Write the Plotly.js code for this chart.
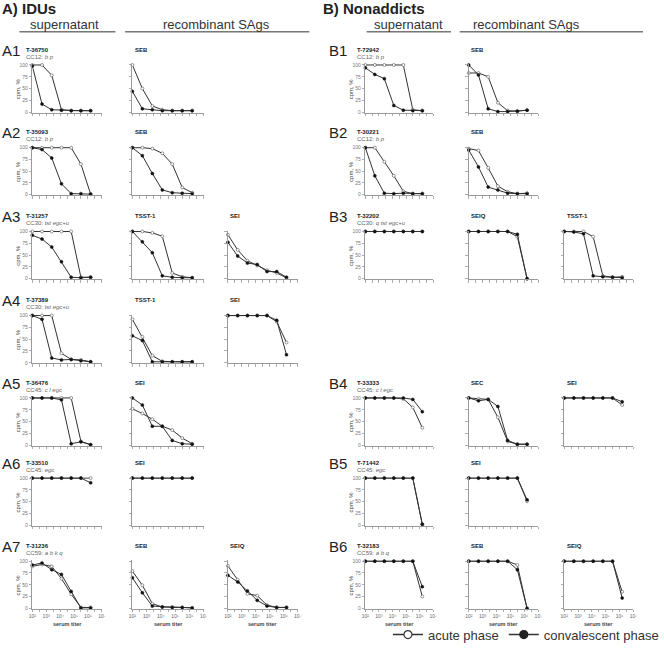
<!DOCTYPE html>
<html><head><meta charset="utf-8">
<script src="https://cdn.plot.ly/plotly-3.0.1.min.js"></script>
<style>html,body{margin:0;padding:0;background:#fff}</style>
</head><body><div id="chart" style="width:664px;height:650px"></div>
<script>
// ---------- data ----------
const titers = [100, 500, 2500, 12500, 62500, 312500, 1562500];
const tickValues = [100, 1000, 10000, 100000, 1000000, 10000000];
const minorTickValues = [316.2, 3162, 31623, 316228, 3162278];
const tickLabels = ["10\u00B2", "10\u00B3", "10\u2074", "10\u2075", "10\u2076", "10\u2077"];
const yTicks = [0, 25, 50, 75, 100];
const seriesNames = ["acute phase", "convalescent phase"];

// A) IDUs
const A_strains = ["T-36750", "T-35093", "T-31257", "T-37389", "T-36476", "T-33510", "T-31236"];
const A_types = ["CC12: <i>b p</i>", "CC12: <i>b p</i>", "CC30: <i>tst egc+u</i>", "CC30: <i>tst egc+u</i>", "CC45: <i>c l egc</i>", "CC45: <i>egc</i>", "CC59: <i>a b k q</i>"];
const A_sags = [["SEB"], ["SEB"], ["TSST-1", "SEI"], ["TSST-1", "SEI"], ["SEI"], ["SEI"], ["SEB", "SEIQ"]];

const A1_sup_acute = [100, 100, 78, 5, 3, 3, 3];
const A1_sup_conv  = [98, 17, 5, 4, 3, 3, 3];
const A1_SEB_acute = [100, 50, 13, 5, 3, 3, 3];
const A1_SEB_conv  = [44, 7, 5, 3, 3, 3, 3];
const A2_sup_acute = [100, 100, 100, 100, 100, 65, 1];
const A2_sup_conv  = [100, 96, 78, 23, 2, 2, 1];
const A2_SEB_acute = [100, 100, 98, 88, 65, 15, 4];
const A2_SEB_conv  = [100, 83, 45, 10, 4, 3, 2];
const A3_sup_acute = [100, 100, 100, 100, 100, 3, 3];
const A3_sup_conv  = [92, 84, 67, 36, 3, 2, 3];
const A3_TSST_acute = [100, 100, 97, 90, 12, 4, 2];
const A3_TSST_conv  = [100, 78, 55, 6, 3, 2, 2];
const A3_SEI_acute = [93, 61, 38, 28, 18, 12, 2];
const A3_SEI_conv  = [77, 48, 33, 30, 15, 15, 3];
const A4_sup_acute = [100, 100, 100, 20, 7, 6, 2];
const A4_sup_conv  = [100, 92, 10, 6, 7, 4, 2];
const A4_TSST_acute = [92, 55, 15, 3, 2, 2, 2];
const A4_TSST_conv  = [57, 47, 2, 2, 2, 2, 2];
const A4_SEI_acute = [100, 100, 100, 100, 100, 87, 43];
const A4_SEI_conv  = [100, 100, 100, 100, 100, 90, 17];
const A5_sup_acute = [100, 100, 100, 100, 100, 8, 1];
const A5_sup_conv  = [100, 100, 100, 96, 3, 7, 1];
const A5_SEI_acute = [77, 67, 55, 40, 32, 15, 3];
const A5_SEI_conv  = [100, 85, 40, 40, 10, 3, 2];
const A6_sup_acute = [100, 100, 100, 100, 100, 100, 100];
const A6_sup_conv  = [100, 100, 100, 100, 100, 100, 90];
const A6_SEI_acute = [100, 100, 100, 100, 100, 100, 100];
const A6_SEI_conv  = [100, 100, 100, 100, 100, 100, 100];
const A7_sup_acute = [89, 93, 89, 63, 30, 2, 2];
const A7_sup_conv  = [92, 96, 82, 72, 36, 1, 1];
const A7_SEB_acute = [79, 49, 10, 3, 3, 2, 1];
const A7_SEB_conv  = [65, 33, 5, 3, 2, 2, 1];
const A7_SEIQ_acute = [90, 61, 31, 27, 7, 2, 2];
const A7_SEIQ_conv  = [70, 56, 37, 17, 5, 2, 2];

// B) Nonaddicts
const B_strains = ["T-72942", "T-30221", "T-32202", "T-33333", "T-71442", "T-32183"];
const B_types = ["CC12: <i>b p</i>", "CC12: <i>b p</i>", "CC30: <i>q tst egc+u</i>", "CC45: <i>c l egc</i>", "CC45: <i>egc</i>", "CC59: <i>a b q</i>"];
const B_sags = [["SEB"], ["SEB"], ["SEIQ", "TSST-1"], ["SEC", "SEI"], ["SEI"], ["SEB", "SEIQ"]];

const B1_sup_acute = [100, 100, 100, 100, 100, 5, 3];
const B1_sup_conv  = [94, 80, 71, 14, 4, 3, 3];
const B1_SEB_acute = [83, 83, 75, 20, 3, 2, 4];
const B1_SEB_conv  = [100, 79, 7, 1, 1, 2, 4];
const B2_sup_acute = [100, 100, 70, 40, 7, 2, 2];
const B2_sup_conv  = [100, 40, 3, 2, 3, 2, 2];
const B2_SEB_acute = [98, 94, 57, 18, 6, 2, 3];
const B2_SEB_conv  = [95, 59, 16, 10, 3, 2, 2];
const B3_sup_acute = [100, 100, 100, 100, 100, 100, 100];
const B3_sup_conv  = [100, 100, 100, 100, 100, 100, 100];
const B3_SEIQ_acute = [100, 100, 100, 100, 100, 89, 0];
const B3_SEIQ_conv  = [100, 100, 100, 100, 100, 94, 0];
const B3_TSST_acute = [100, 100, 100, 89, 6, 3, 4];
const B3_TSST_conv  = [100, 99, 95, 6, 4, 3, 2];
const B4_sup_acute = [100, 100, 100, 100, 98, 80, 37];
const B4_sup_conv  = [100, 100, 100, 100, 100, 97, 71];
const B4_SEC_acute = [100, 98, 97, 59, 8, 2, 2];
const B4_SEC_conv  = [100, 94, 97, 82, 10, 2, 2];
const B4_SEI_acute = [100, 100, 100, 100, 100, 100, 85];
const B4_SEI_conv  = [100, 100, 100, 100, 100, 100, 92];
const B5_sup_acute = [100, 100, 100, 100, 100, 100, 2];
const B5_sup_conv  = [100, 100, 100, 100, 100, 100, 2];
const B5_SEI_acute = [100, 100, 100, 100, 100, 100, 51];
const B5_SEI_conv  = [100, 100, 100, 100, 100, 100, 54];
const B6_sup_acute = [100, 100, 100, 100, 100, 100, 25];
const B6_sup_conv  = [100, 100, 100, 100, 100, 100, 46];
const B6_SEB_acute = [100, 100, 100, 100, 100, 92, 0];
const B6_SEB_conv  = [100, 100, 100, 100, 100, 82, 0];
const B6_SEIQ_acute = [100, 100, 100, 100, 100, 100, 35];
const B6_SEIQ_conv  = [100, 100, 100, 100, 100, 100, 22];

const A_series = [
  [[A1_sup_acute, A1_sup_conv], [A1_SEB_acute, A1_SEB_conv]],
  [[A2_sup_acute, A2_sup_conv], [A2_SEB_acute, A2_SEB_conv]],
  [[A3_sup_acute, A3_sup_conv], [A3_TSST_acute, A3_TSST_conv], [A3_SEI_acute, A3_SEI_conv]],
  [[A4_sup_acute, A4_sup_conv], [A4_TSST_acute, A4_TSST_conv], [A4_SEI_acute, A4_SEI_conv]],
  [[A5_sup_acute, A5_sup_conv], [A5_SEI_acute, A5_SEI_conv]],
  [[A6_sup_acute, A6_sup_conv], [A6_SEI_acute, A6_SEI_conv]],
  [[A7_sup_acute, A7_sup_conv], [A7_SEB_acute, A7_SEB_conv], [A7_SEIQ_acute, A7_SEIQ_conv]]
];
const B_series = [
  [[B1_sup_acute, B1_sup_conv], [B1_SEB_acute, B1_SEB_conv]],
  [[B2_sup_acute, B2_sup_conv], [B2_SEB_acute, B2_SEB_conv]],
  [[B3_sup_acute, B3_sup_conv], [B3_SEIQ_acute, B3_SEIQ_conv], [B3_TSST_acute, B3_TSST_conv]],
  [[B4_sup_acute, B4_sup_conv], [B4_SEC_acute, B4_SEC_conv], [B4_SEI_acute, B4_SEI_conv]],
  [[B5_sup_acute, B5_sup_conv], [B5_SEI_acute, B5_SEI_conv]],
  [[B6_sup_acute, B6_sup_conv], [B6_SEB_acute, B6_SEB_conv], [B6_SEIQ_acute, B6_SEIQ_conv]]
];

// ---------- layout geometry (pixels) ----------
const W = 664, H = 650;
const FONT = "Liberation Sans, Arial, sans-serif";
const rowsPx = [[65.7,113.3],[149.3,196.7],[234,281.7],[319,366.7],[402.3,450],[483.3,531],[567.3,615]];
const A_rows = [0,1,2,3,4,5,6];
const B_rows = [0,1,2,4,5,6];
const A_cols = [[33.3,105],[136.5,210],[235,307]];
const B_cols = [[376.7,446.7],[483.3,555],[581.7,653]];
const px = x => x / W;
const py = y => 1 - y / H;

const traces = [];
const layout = {
  width: W, height: H,
  margin: {l:0, r:0, t:0, b:0},
  paper_bgcolor: '#fff', plot_bgcolor: 'rgba(0,0,0,0)',
  font: {family: FONT, color: '#333'},
  showlegend: true,
  legend: {orientation: 'h', x: px(400), xanchor: 'left', y: py(641.5), yanchor: 'middle',
           font: {size: 13, color: '#333', family: FONT}, bgcolor: 'rgba(0,0,0,0)', itemwidth: 30, traceorder: 'normal'},
  annotations: [], shapes: []
};
let k = 0;
const lineColor = '#333';

function ann(text, x, y, opts) {
  layout.annotations.push(Object.assign({text: text, x: px(x), y: py(y), xref: 'paper', yref: 'paper',
    showarrow: false, xanchor: 'left', yanchor: 'middle', font: {size: 6, color: '#333', family: FONT}}, opts || {}));
}

function addPanel(series, colPx, rowPx, isSup, isBottom) {
  k += 1;
  const xa = 'x' + (k === 1 ? '' : k), ya = 'y' + (k === 1 ? '' : k);
  const xName = 'xaxis' + (k === 1 ? '' : k), yName = 'yaxis' + (k === 1 ? '' : k);
  const unit = (rowPx[1] - rowPx[0]) / 100;
  const yTop = rowPx[0] - 2 * unit, yBot = rowPx[1] + 1 * unit;
  layout[xName] = {
    domain: [px(colPx[0]), px(colPx[1])], anchor: ya, type: 'log', range: [2, 7],
    showgrid: false, zeroline: false, showline: true, linecolor: '#9a9a9a', linewidth: 1,
    ticks: 'outside', ticklen: 2.5, tickwidth: 0.8, tickcolor: '#9a9a9a',
    tickmode: 'array', tickvals: tickValues, ticktext: tickLabels,
    minor: {tickmode: 'array', tickvals: minorTickValues, ticks: 'outside', ticklen: 2.5, tickwidth: 0.8, tickcolor: '#9a9a9a', showgrid: false},
    showticklabels: isBottom, tickfont: {size: 5, color: '#666', family: FONT}, fixedrange: true
  };
  layout[yName] = {
    domain: [py(yBot), py(yTop)], anchor: xa, range: [-1, 102],
    showgrid: false, zeroline: false, showline: true, linecolor: '#9a9a9a', linewidth: 1,
    ticks: 'outside', ticklen: 2.5, tickwidth: 0.8, tickcolor: '#9a9a9a',
    tickmode: 'array', tickvals: yTicks, showticklabels: isSup,
    tickfont: {size: 5, color: '#777', family: FONT}, fixedrange: true
  };
  traces.push({x: titers, y: series[0], xaxis: xa, yaxis: ya, type: 'scatter', mode: 'lines+markers',
    name: seriesNames[0], showlegend: false, cliponaxis: false,
    line: {color: lineColor, width: 1},
    marker: {symbol: 'circle', size: 3, color: '#fff', line: {color: '#555', width: 0.6}}});
  traces.push({x: titers, y: series[1], xaxis: xa, yaxis: ya, type: 'scatter', mode: 'lines+markers',
    name: seriesNames[1], showlegend: false, cliponaxis: false,
    line: {color: lineColor, width: 1},
    marker: {symbol: 'circle', size: 3, color: '#111', line: {color: '#111', width: 0.5}}});
  if (isSup) {
    ann('cpm, %', colPx[0] - 15, (rowPx[0] + rowPx[1]) / 2, {textangle: -90, xanchor: 'center', yanchor: 'middle', font: {size: 6, color: '#444', family: FONT}});
  }
  if (isBottom) {
    ann('<b>serum titer</b>', (colPx[0] + colPx[1]) / 2, 631, {xanchor: 'center', font: {size: 5.5, color: '#444', family: FONT}});
  }
}

function addGroup(seriesRows, rowsIdx, cols, strains, types, sags, labelPrefix, labelX, titleX) {
  seriesRows.forEach((row, r) => {
    const rowPx = rowsPx[rowsIdx[r]];
    const isBottom = rowsIdx[r] === 6;
    ann(labelPrefix + (r + 1), labelX, rowPx[0] - 15, {font: {size: 15, color: '#222', family: FONT}});
    ann('<b>' + strains[r] + '</b>', titleX, rowPx[0] - 15.5, {font: {size: 6, color: '#222', family: FONT}});
    ann(types[r], titleX, rowPx[0] - 8.3, {font: {size: 6, color: '#666', family: FONT}});
    row.forEach((series, c) => {
      addPanel(series, cols[c], rowPx, c === 0, isBottom);
      if (c > 0) {
        ann('<b>' + sags[r][c - 1] + '</b>', cols[c][0] + 0.5, rowPx[0] - 15.5, {font: {size: 6, color: '#222', family: FONT}});
      }
    });
  });
}

addGroup(A_series, A_rows, A_cols, A_strains, A_types, A_sags, 'A', 0, 25);
addGroup(B_series, B_rows, B_cols, B_strains, B_types, B_sags, 'B', 337, 366);

// headers
ann('<b>A) IDUs</b>', 0, 9, {font: {size: 15, color: '#222', family: FONT}});
ann('<b>B) Nonaddicts</b>', 331, 9, {font: {size: 15, color: '#222', family: FONT}});
const headers = [['supernatant', 67, 20, 119], ['recombinant SAgs', 223, 129, 319],
                 ['supernatant', 421.7, 378, 465], ['recombinant SAgs', 543.3, 474, 663]];
headers.forEach(h => {
  ann(h[0], h[1], 24.5, {xanchor: 'center', font: {size: 13, color: '#333', family: FONT}});
  layout.shapes.push({type: 'line', xref: 'paper', yref: 'paper', x0: px(h[2]), x1: px(h[3]), y0: py(32), y1: py(32),
    line: {color: '#777', width: 1.5}});
});

// legend entries
const lastX = 'x' + k, lastY = 'y' + k;
traces.push({x: [null], y: [null], xaxis: lastX, yaxis: lastY, type: 'scatter', mode: 'lines+markers', name: seriesNames[0],
  showlegend: true, line: {color: '#333', width: 1.5}, marker: {size: 8, color: '#fff', line: {color: '#333', width: 1.2}}});
traces.push({x: [null], y: [null], xaxis: lastX, yaxis: lastY, type: 'scatter', mode: 'lines+markers', name: seriesNames[1],
  showlegend: true, line: {color: '#333', width: 1.5}, marker: {size: 8, color: '#222', line: {color: '#222', width: 1.2}}});

Plotly.newPlot('chart', traces, layout, {staticPlot: true, displayModeBar: false});
</script></body></html>
